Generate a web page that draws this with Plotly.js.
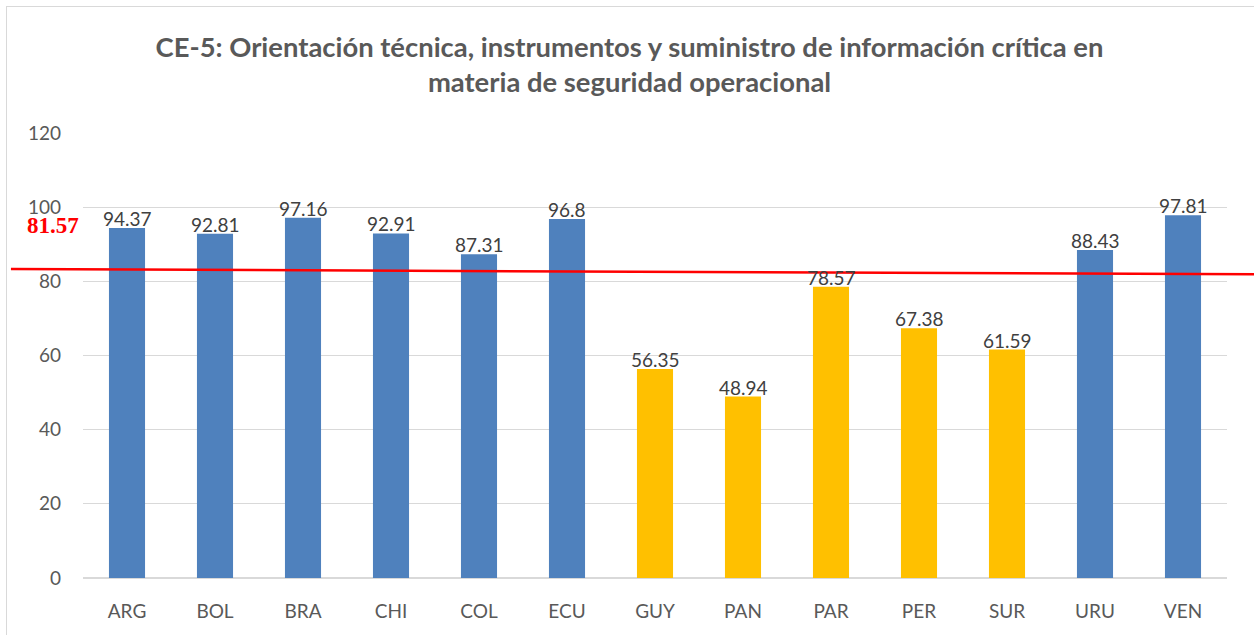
<!DOCTYPE html>
<html>
<head>
<meta charset="utf-8">
<script src="https://cdn.plot.ly/plotly-3.0.1.min.js"></script>
<style>
  html, body { margin: 0; padding: 0; background: #fff; overflow: hidden; }
  #wrap { position: relative; width: 1254px; height: 635px; overflow: hidden; }
  #frame { position: absolute; left: 6px; top: 6px; width: 1400px; height: 800px; border: 1.5px solid #d9d9d9; box-sizing: border-box; pointer-events: none; }
  #chart { position: absolute; left: 0; top: 0; width: 1254px; height: 635px; }
</style>
</head>
<body>
<div id="wrap">
  <div id="chart"></div>
  <div id="frame"></div>
</div>
<script>
// ---- data ----
const countries = ["ARG", "BOL", "BRA", "CHI", "COL", "ECU", "GUY", "PAN", "PAR", "PER", "SUR", "URU", "VEN"];
const scores = [94.37, 92.81, 97.16, 92.91, 87.31, 96.8, 56.35, 48.94, 78.57, 67.38, 61.59, 88.43, 97.81];
const scoreLabels = ["94.37", "92.81", "97.16", "92.91", "87.31", "96.8", "56.35", "48.94", "78.57", "67.38", "61.59", "88.43", "97.81"];
const average = 81.57;
const averageLineEnds = [83.3, 81.9]; // hand-drawn line, left and right y values
const yTicks = [0, 20, 40, 60, 80, 100, 120];
const titleText = "CE-5: Orientación técnica, instrumentos y suministro de información crítica en<br>materia de seguridad operacional";

// ---- styling ----
const BLUE = "#4F81BD";
const GOLD = "#FFC000";
const FONT = "Lato, 'Open Sans', sans-serif";
const barColors = scores.map(v => v >= average ? BLUE : GOLD);

const trace = {
  type: "bar",
  x: countries,
  y: scores,
  marker: { color: barColors, line: { width: 0 } },
  hoverinfo: "x+y"
};

const labelAnnotations = countries.map((c, i) => ({
  xref: "x",
  yref: "y",
  x: c,
  y: scores[i],
  text: scoreLabels[i],
  showarrow: false,
  xanchor: "center",
  yanchor: "bottom",
  yshift: -4,
  font: { family: FONT, size: 19, color: "#404040" }
}));

const layout = {
  width: 1254,
  height: 635,
  margin: { l: 83, r: 27, t: 133, b: 57 },
  paper_bgcolor: "rgba(0,0,0,0)",
  plot_bgcolor: "rgba(0,0,0,0)",
  showlegend: false,
  bargap: 0.59,
  title: {
    text: titleText,
    x: 0.502,
    xref: "container",
    xanchor: "center",
    y: 0.911,
    yref: "container",
    yanchor: "middle",
    font: { family: FONT, size: 27.4, color: "#595959", weight: "bold" }
  },
  xaxis: {
    type: "category",
    showgrid: false,
    showline: false,
    ticks: "",
    ticklabelstandoff: 20,
    tickfont: { family: FONT, size: 19, color: "#595959" },
    fixedrange: true
  },
  yaxis: {
    range: [0, 120],
    tickvals: yTicks,
    ticktext: yTicks.map(String),
    showgrid: true,
    gridcolor: "#d9d9d9",
    gridwidth: 1,
    zeroline: true,
    zerolinecolor: "#d9d9d9",
    zerolinewidth: 1.5,
    showline: false,
    ticks: "",
    ticklabelstandoff: 21,
    tickfont: { family: FONT, size: 19, color: "#595959" },
    fixedrange: true
  },
  shapes: [{
    type: "line",
    xref: "paper",
    yref: "y",
    x0: -0.063,
    x1: 1.0236,
    y0: averageLineEnds[0],
    y1: averageLineEnds[1],
    line: { color: "#FF0000", width: 2.5 },
    layer: "above"
  }],
  annotations: labelAnnotations.concat([{
    xref: "paper",
    yref: "y",
    x: -0.0258,
    y: 95.0,
    xanchor: "center",
    yanchor: "middle",
    text: "<b>" + average.toFixed(2) + "</b>",
    showarrow: false,
    font: { family: "'Liberation Serif', 'DejaVu Serif', serif", size: 23, color: "#FF0000" }
  }])
};

Plotly.newPlot("chart", [trace], layout, { displayModeBar: false, staticPlot: true });
</script>
</body>
</html>
